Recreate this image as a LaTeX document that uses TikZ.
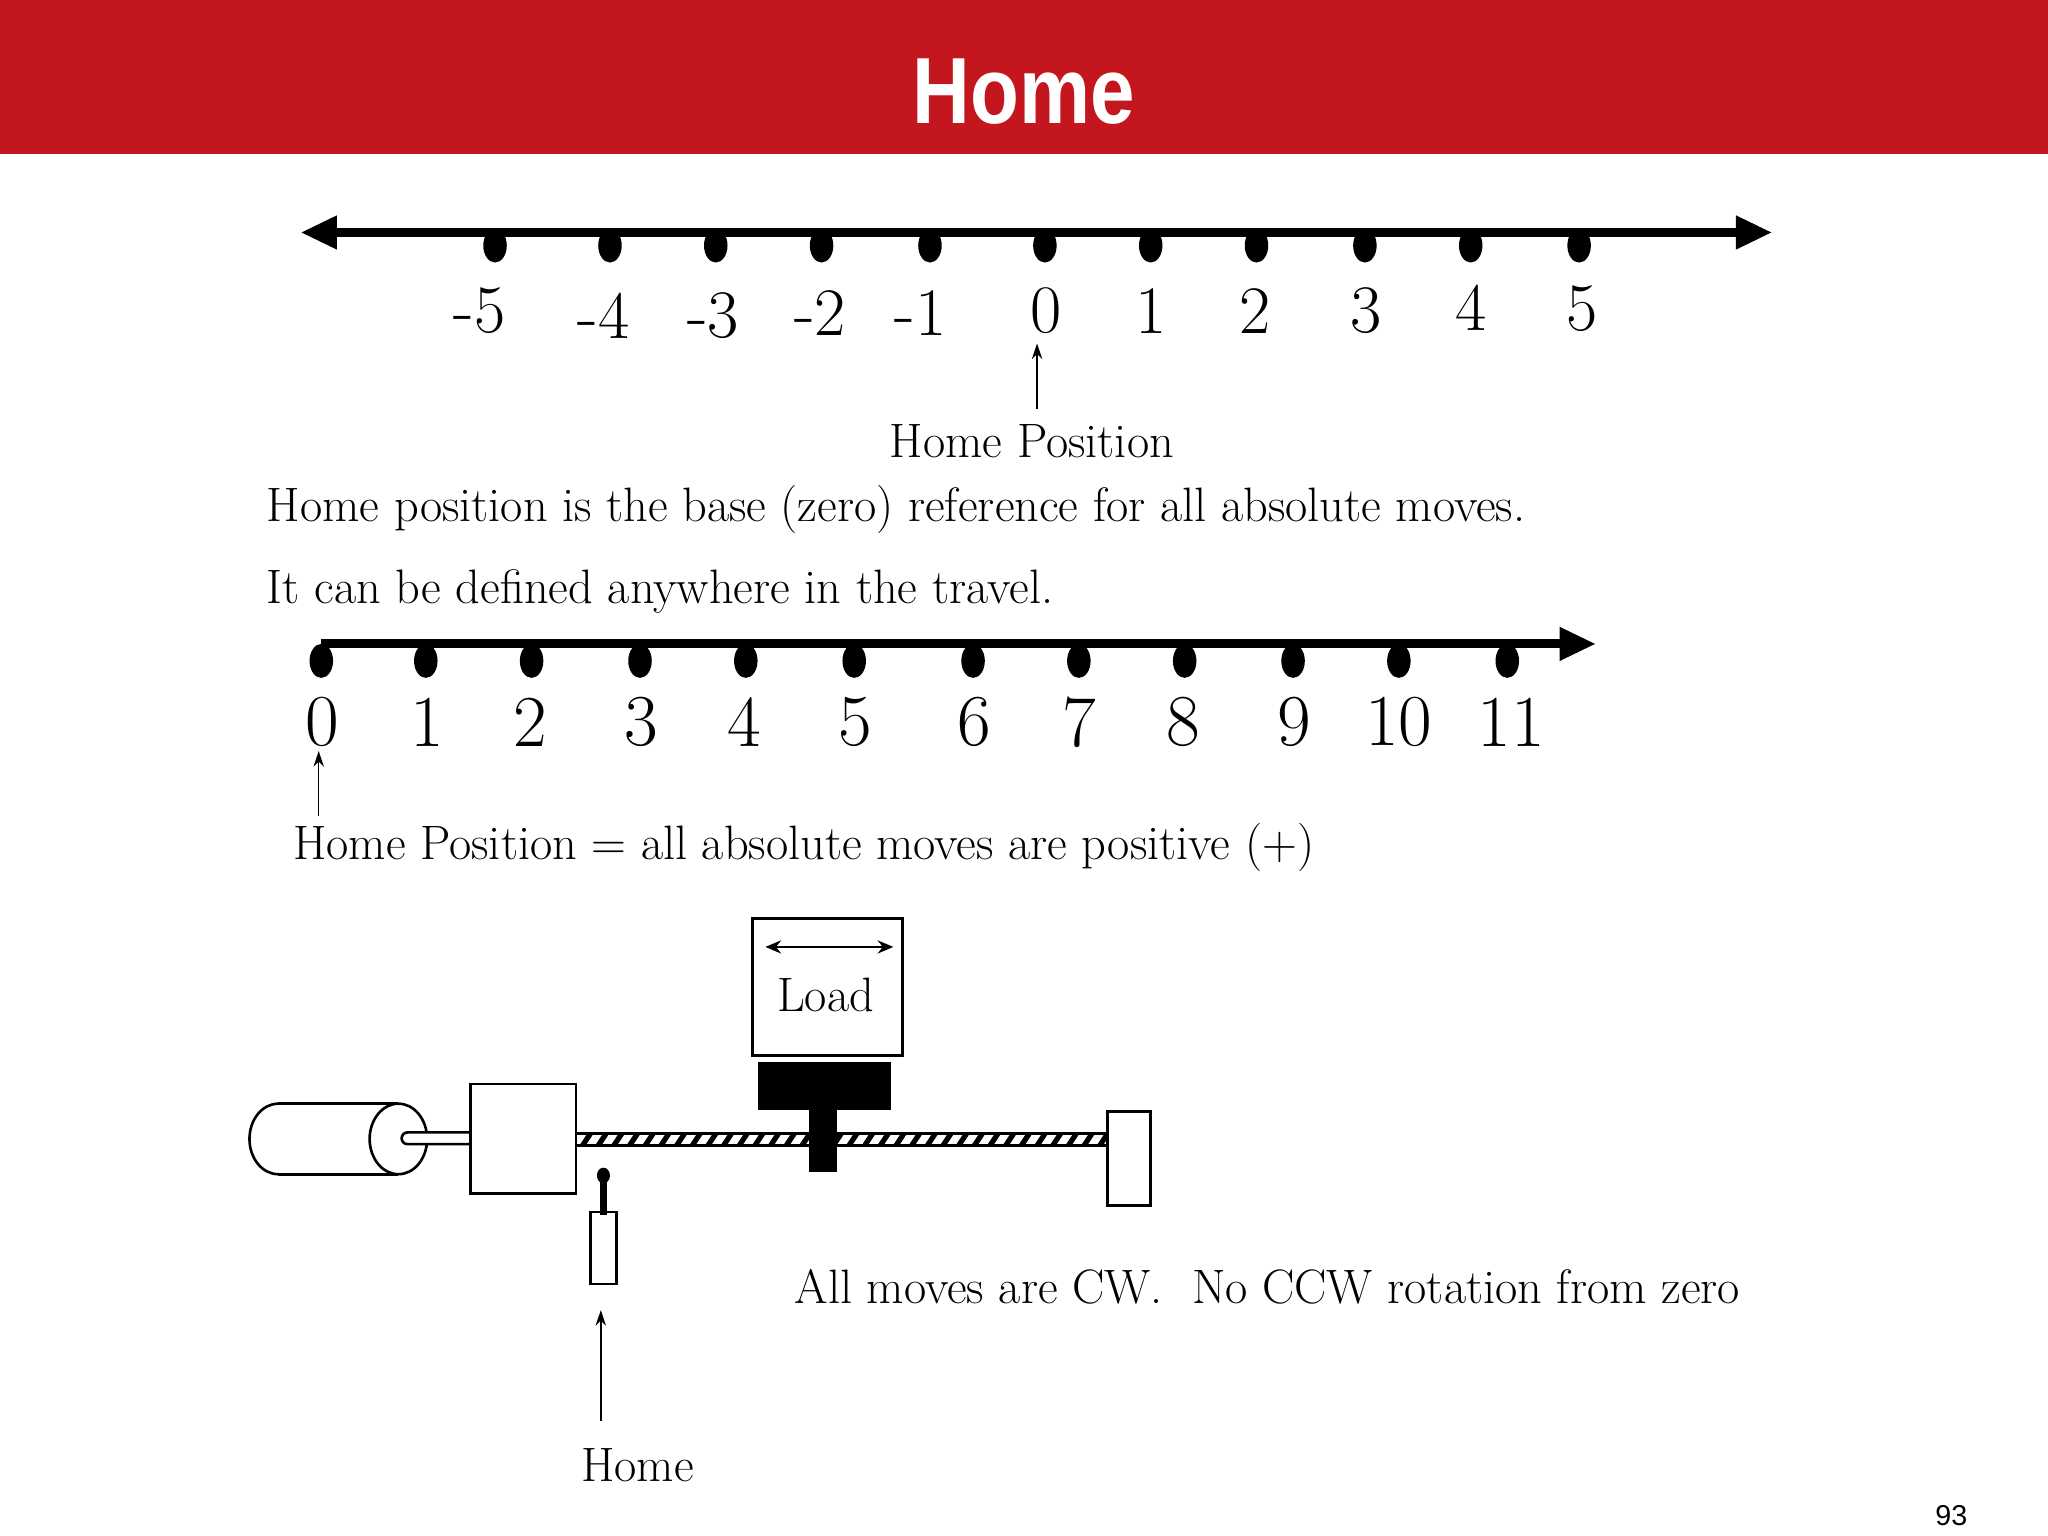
\documentclass[tikz,border=0pt]{standalone}
\usepackage{fontspec}
\newfontfamily\sansf{Liberation Sans}
\usetikzlibrary{arrows.meta,patterns}
\definecolor{barred}{HTML}{C3161E}
\begin{document}
\begin{tikzpicture}[x=0.5pt,y=-0.5pt,
  dot/.style={fill=black,draw=none},
  num/.style={font=\fontsize{26}{30}\selectfont,inner sep=0},
  numb/.style={font=\fontsize{28}{32}\selectfont,inner sep=0},
  txt/.style={font=\fontsize{18.5}{22}\selectfont,inner sep=0},
  axis/.style={line width=3.5pt},
  thin/.style={line width=0.6pt,-{Stealth[length=6pt,width=4pt]}}]
\useasboundingbox (0,0) rectangle (1568,1176);
\fill[barred] (0,0) rectangle (1568,118);
\node[font=\sansf\bfseries\fontsize{36}{40}\selectfont,text=white,xscale=0.85] (title) at (784,70) {Home};
% top axis
\coordinate (tl) at (230,178); \coordinate (tr) at (1357,178);
\draw[axis,{Triangle[length=14pt,width=12pt]}-{Triangle[length=14pt,width=12pt]}] (tl) -- (tr);
\foreach \x/\l/\lx/\ly in {379/-5/367/238,467/-4/462/242,548/-3/546/242,629/-2/628/240,712/-1/705/240,800/0/801/238,881/1/881/238,962/2/961/238,1045/3/1046/238,1126/4/1126/236,1209/5/1211/236}{
  \fill[dot] (\x,188) ellipse (9 and 13);
  \node[num] (t\l) at (\lx,\ly) {\l};
}
\node[txt] (hp1) at (790,338) {Home Position};
\coordinate (a1s) at (794,313); \coordinate (a1e) at (794,263);
\draw[thin] (a1s) -- (a1e);
\node[txt,anchor=west] (s1) at (204,390) {Home position is the base (zero) reference for all absolute moves.};
\node[txt,anchor=west] (s2) at (204,453) {It can be defined anywhere in the travel.};
% second axis
\coordinate (bl) at (246,493); \coordinate (br) at (1222,493);
\draw[axis,-{Triangle[length=14pt,width=12pt]}] (bl) -- (br);
\foreach \x/\l/\lx in {246/0/247,326/1/327,407/2/406,490/3/491,571/4/570,654/5/655,745/6/746,826/7/826,907/8/906,990/9/991,1071/10/1071,1154/11/1157}{
  \fill[dot] (\x,506) ellipse (9 and 13);
  \node[numb] (b\l) at (\lx,553) {\l};
}
\coordinate (a2s) at (244,625); \coordinate (a2e) at (244,575);
\draw[thin] (a2s) -- (a2e);
\node[txt,anchor=west] (s3) at (224,649) {Home Position = all absolute moves are positive (+)};
% mechanism
\draw[line width=1pt] (576,703) rectangle (691,808);
\draw[line width=1pt,{Stealth[length=6pt,width=5pt]}-{Stealth[length=6pt,width=5pt]}] (586,725) -- (684,725);
\node[txt] (load) at (632,762) {Load};
\fill (580,813) rectangle (682,850);
% motor
\draw[line width=1pt] (213,845) -- (305,845) (213,899) -- (305,899);
\draw[line width=1pt] (213,845) arc[start angle=270,end angle=90,x radius=22,y radius=27];
\draw[line width=1pt,fill=white] (305,872) ellipse (22 and 27);
\draw[line width=1pt,fill=white] (360,867) -- (312,867) arc[start angle=270,end angle=90,x radius=4.5,y radius=4.5] -- (360,876);
\draw[line width=1pt,fill=white] (360,830) rectangle (441,914);
% screw
\begin{scope}
\clip (441,868) rectangle (848,877);
\foreach \x in {446,458,...,848}{\draw[line width=2pt] (\x,877) -- (\x+6,868);}
\end{scope}
\draw[line width=1pt] (441,868) rectangle (848,877);
\fill (619,850) rectangle (641,897);
\draw[line width=1pt,fill=white] (848,851) rectangle (881,923);
% sensor
\draw[line width=2.5pt] (462,902) -- (462,930);
\fill (462,900) ellipse (5 and 6);
\draw[line width=1pt] (452,928) rectangle (472,983);
\coordinate (a3s) at (460,1088); \coordinate (a3e) at (460,1003);
\draw[thin] (a3s) -- (a3e);
\node[txt] (home) at (488,1122) {Home};
\node[txt,anchor=west] (s4) at (608,985) {All moves are CW.\ \ No CCW rotation from zero};
\node[font=\sansf\fontsize{11}{13}\selectfont] (pg) at (1494,1160) {93};
\end{tikzpicture}
\end{document}
